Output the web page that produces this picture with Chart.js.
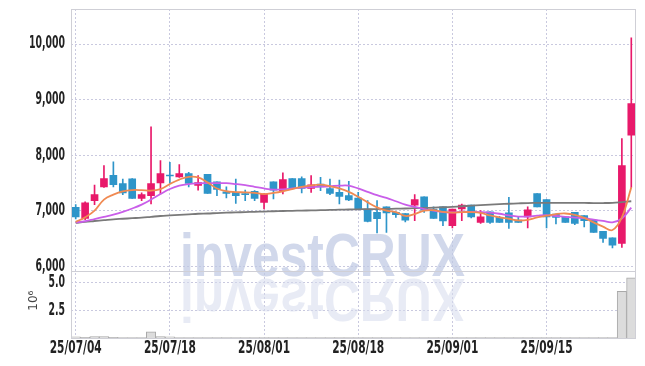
<!DOCTYPE html>
<html>
<head>
<meta charset="utf-8">
<script src="https://cdn.jsdelivr.net/npm/chart.js@4.4.1/dist/chart.umd.min.js"></script>
<style>
  html, body { margin: 0; padding: 0; background: #fff; }
</style>
</head>
<body>
<canvas id="chart" width="645" height="366"></canvas>
<script>
// trading days, 25/07/04 .. 25/09/26
const dates = [
  '25/07/04',
  '25/07/07','25/07/08','25/07/09','25/07/10','25/07/11',
  '25/07/14','25/07/15','25/07/16','25/07/17','25/07/18',
  '25/07/21','25/07/22','25/07/23','25/07/24','25/07/25',
  '25/07/28','25/07/29','25/07/30','25/07/31','25/08/01',
  '25/08/04','25/08/05','25/08/06','25/08/07','25/08/08',
  '25/08/11','25/08/12','25/08/13','25/08/14',
  '25/08/18','25/08/19','25/08/20','25/08/21','25/08/22',
  '25/08/25','25/08/26','25/08/27','25/08/28','25/08/29',
  '25/09/01','25/09/02','25/09/03','25/09/04','25/09/05',
  '25/09/08','25/09/09','25/09/10','25/09/11','25/09/12',
  '25/09/15','25/09/16','25/09/17','25/09/18','25/09/19',
  '25/09/22','25/09/23','25/09/24','25/09/25','25/09/26'
];

const opens = [
  7060, 6860, 7180, 7430, 7635, 7490, 7575, 7220, 7270, 7500,
  7640, 7610, 7670, 7455, 7655, 7520, 7340, 7330, 7310, 7350,
  7150, 7520, 7360, 7580, 7580, 7400, 7480, 7400, 7330, 7270,
  7225, 7030, 6970, 7070, 6970, 6950, 7100, 7250, 7030, 7070,
  6730, 7030, 7100, 6790, 6980, 6880, 6960, 6830, 6890, 7310,
  7200, 6940, 6890, 6970, 6910, 6830, 6630, 6510, 6410, 8360
];
const highs = [
  7110, 7160, 7460, 7810, 7880, 7570, 7580, 7320, 8510, 7900,
  7870, 7830, 7690, 7630, 7655, 7520, 7430, 7570, 7370, 7360,
  7310, 7520, 7680, 7580, 7610, 7630, 7600, 7570, 7550, 7530,
  7330, 7180, 7180, 7070, 6980, 6950, 7290, 7250, 7070, 7070,
  7030, 7120, 7100, 7000, 6980, 6900, 7240, 6880, 7070, 7310,
  7200, 6940, 6890, 6970, 6910, 6830, 6630, 6510, 8300, 10110
];
const lows = [
  6850, 6840, 7110, 7420, 7430, 7290, 7220, 7180, 7120, 7300,
  7490, 7600, 7430, 7370, 7310, 7270, 7230, 7130, 7180, 7180,
  7030, 7210, 7300, 7400, 7320, 7330, 7360, 7290, 7120, 7180,
  7030, 6800, 6600, 6610, 6880, 6800, 6820, 6970, 6860, 6730,
  6690, 6820, 6870, 6770, 6770, 6790, 6680, 6790, 6690, 7070,
  6690, 6760, 6790, 6750, 6710, 6610, 6430, 6330, 6340, 7420
];
const closes = [
  6890, 7140, 7290, 7580, 7470, 7320, 7220, 7290, 7490, 7670,
  7625, 7670, 7490, 7505, 7310, 7385, 7310, 7270, 7290, 7220,
  7300, 7370, 7560, 7400, 7400, 7465, 7430, 7310, 7255, 7195,
  7030, 6805, 6855, 6960, 6930, 6830, 7200, 7010, 6860, 6815,
  7030, 7100, 6890, 6890, 6790, 6790, 6790, 6790, 7015, 7070,
  6890, 6880, 6790, 6770, 6820, 6610, 6500, 6380, 7810, 8930
];
// volume, millions of shares
const volumes = [
  0.10, 0.05, 0.12, 0.12, 0.05, 0.04, 0.04, 0.04, 0.55, 0.12,
  0.10, 0.04, 0.04, 0.03, 0.04, 0.03, 0.03, 0.04, 0.03, 0.03,
  0.03, 0.03, 0.04, 0.03, 0.03, 0.03, 0.03, 0.03, 0.03, 0.03,
  0.03, 0.04, 0.04, 0.04, 0.03, 0.03, 0.03, 0.03, 0.03, 0.03,
  0.03, 0.03, 0.03, 0.03, 0.03, 0.03, 0.04, 0.03, 0.03, 0.03,
  0.03, 0.03, 0.03, 0.03, 0.03, 0.03, 0.04, 0.04, 4.2, 5.4
];

// moving averages
const maShort = [
  6800, 6880, 7000, 7200, 7290, 7350, 7372, 7370, 7360, 7390,
  7480, 7560, 7610, 7600, 7510, 7400, 7350, 7335, 7330, 7320,
  7300, 7320, 7350, 7390, 7430, 7455, 7468, 7440, 7400, 7340,
  7250, 7150, 7060, 7000, 6975, 6905, 6940, 7000, 7010, 6980,
  6965, 6975, 6975, 6960, 6915, 6880, 6855, 6825, 6835, 6880,
  6910, 6940, 6950, 6925, 6870, 6790, 6712, 6652, 6880, 7420
];
const maMid = [
  6790, 6810, 6850, 6890, 6930, 6980, 7040, 7110, 7200, 7300,
  7390, 7450, 7480, 7492, 7495, 7495, 7495, 7480, 7460, 7430,
  7400, 7380, 7385, 7400, 7415, 7425, 7432, 7440, 7450, 7450,
  7400, 7340, 7280, 7230, 7170, 7110, 7070, 7030, 7000, 6975,
  6970, 6980, 6980, 6975, 6965, 6945, 6915, 6895, 6895, 6910,
  6920, 6905, 6890, 6875, 6865, 6840, 6815, 6790, 6860, 7055
];
const maLong = [
  6780, 6800, 6815, 6830, 6845, 6855, 6865, 6875, 6890, 6905,
  6915, 6925, 6935, 6945, 6950, 6958, 6965, 6970, 6975, 6980,
  6985, 6990, 6995, 6998, 7002, 7005, 7010, 7014, 7018, 7022,
  7025, 7028, 7030, 7033, 7036, 7040, 7045, 7050, 7055, 7062,
  7070, 7080, 7090, 7100, 7110, 7118, 7125, 7132, 7138, 7140,
  7142, 7142, 7140, 7140, 7140, 7138, 7138, 7142, 7155, 7170
];

const priceTicks = [6000, 7000, 8000, 9000, 10000];
const volumeTicks = [2.5, 5.0];
const dateTickIdx = [0, 10, 20, 30, 40, 50];
const markText = 'investCRUX';

const upColor = '#e8196a';
const downColor = '#2e95c9';
const gridColor = '#c9c9df';
const frameColor = '#cfcfd6';
const labelFont = 'bold 17px "DejaVu Sans Condensed", "DejaVu Sans", sans-serif';

const candleColors = closes.map((c, i) => c >= opens[i] ? upColor : downColor);
const wickData = lows.map((l, i) => [l, highs[i]]);
const bodyData = opens.map((o, i) => [o, closes[i]]);

// watermark with its reflection, behind the data
const watermark = {
  id: 'watermark',
  beforeDatasetsDraw(chart) {
    const ctx = chart.ctx;
    ctx.save();
    ctx.font = 'bold 62px "Liberation Sans", Arial, sans-serif';
    const w = ctx.measureText(markText).width;
    ctx.translate(180, 276);
    ctx.scale(285 / w, 1);
    ctx.fillStyle = 'rgba(190,199,226,0.7)';
    ctx.fillText(markText, 0, 0);
    ctx.scale(1, -1);
    ctx.fillStyle = 'rgba(214,219,236,0.55)';
    ctx.fillText(markText, 0, -3);
    ctx.restore();
  }
};

// frame round the panes, the 10^6 unit and the narrow tick labels
const frame = {
  id: 'frame',
  afterDatasetsDraw(chart) {
    const ctx = chart.ctx;
    const a = chart.chartArea;
    const { x, y, yv } = chart.scales;
    const sep = yv.top;
    ctx.save();
    ctx.strokeStyle = frameColor;
    ctx.lineWidth = 1;
    ctx.strokeRect(a.left + 0.5, a.top + 0.5, a.right - a.left - 1, a.bottom - a.top);
    ctx.beginPath();
    ctx.moveTo(a.left, Math.round(sep) + 0.5);
    ctx.lineTo(a.right, Math.round(sep) + 0.5);
    ctx.stroke();

    ctx.save();
    ctx.translate(34, (sep + a.bottom) / 2 - 4);
    ctx.rotate(-Math.PI / 2);
    ctx.fillStyle = '#444';
    ctx.font = '12px "DejaVu Sans", sans-serif';
    ctx.textAlign = 'center';
    ctx.textBaseline = 'middle';
    ctx.fillText('10\u2076', 0, 0);
    ctx.restore();

    ctx.fillStyle = '#222';
    ctx.font = labelFont;
    ctx.textBaseline = 'middle';
    const put = (txt, px, py, align, sq) => {
      ctx.save();
      ctx.translate(px, py);
      ctx.scale(sq, 1);
      ctx.textAlign = align;
      ctx.fillText(txt, 0, 0);
      ctx.restore();
    };
    const sqX = 52 / ctx.measureText('25/07/04').width;
    const sqY = 36 / ctx.measureText('10,000').width;
    dateTickIdx.forEach(i => put(dates[i], x.getPixelForValue(i), a.bottom + 11, 'center', sqX));
    priceTicks.forEach(v => put(v.toLocaleString('en-US'), a.left - 6, y.getPixelForValue(v), 'right', sqY));
    volumeTicks.forEach(v => put(v.toFixed(1), a.left - 6, yv.getPixelForValue(v), 'right', sqY));
    ctx.restore();
  }
};

new Chart(document.getElementById('chart'), {
  data: {
    labels: dates,
    datasets: [
      { type: 'line', data: maShort, yAxisID: 'y', borderColor: '#f08a52', borderWidth: 1.8,
        pointRadius: 0, tension: 0.4, order: 0 },
      { type: 'line', data: maMid, yAxisID: 'y', borderColor: '#c95ee9', borderWidth: 1.8,
        pointRadius: 0, tension: 0.4, order: 0 },
      { type: 'line', data: maLong, yAxisID: 'y', borderColor: '#7a7a7a', borderWidth: 1.8,
        pointRadius: 0, tension: 0.4, order: 0 },
      { type: 'bar', data: bodyData, yAxisID: 'y', backgroundColor: candleColors,
        barThickness: 7, grouped: false, minBarLength: 1, order: 1 },
      { type: 'bar', data: wickData, yAxisID: 'y', backgroundColor: candleColors,
        barThickness: 1, grouped: false, order: 2 },
      { type: 'bar', data: volumes, yAxisID: 'yv', backgroundColor: '#dcdcdc',
        borderColor: '#a9a9a9', borderWidth: 1, barPercentage: 1, categoryPercentage: 1,
        grouped: false, order: 3 }
    ]
  },
  options: {
    responsive: false,
    animation: false,
    layout: { padding: { top: 9, right: 9, left: 0, bottom: 0 } },
    plugins: { legend: { display: false }, tooltip: { enabled: false } },
    scales: {
      x: {
        type: 'category',
        offset: true,
        grid: { offset: false, color: gridColor, drawTicks: false },
        border: { display: false, dash: [2, 2] },
        ticks: { display: false, autoSkip: false },
        afterBuildTicks: (s) => { s.ticks = dateTickIdx.map(v => ({ value: v })); },
        afterFit: (s) => { s.height = 28; }
      },
      yv: {
        type: 'linear',
        position: 'left',
        stack: 'pane',
        stackWeight: 1,
        min: 0,
        max: 6,
        grid: { color: gridColor, drawTicks: false },
        border: { display: false, dash: [2, 2] },
        ticks: { display: false },
        afterBuildTicks: (s) => { s.ticks = volumeTicks.map(v => ({ value: v })); },
        afterFit: (s) => { s.width = 71; }
      },
      y: {
        type: 'linear',
        position: 'left',
        stack: 'pane',
        stackWeight: 3.93,
        min: 5910,
        max: 10630,
        grid: { color: gridColor, drawTicks: false },
        border: { display: false, dash: [2, 2] },
        ticks: { display: false },
        afterBuildTicks: (s) => { s.ticks = priceTicks.map(v => ({ value: v })); },
        afterFit: (s) => { s.width = 71; }
      }
    }
  },
  plugins: [watermark, frame]
});
</script>
</body>
</html>
